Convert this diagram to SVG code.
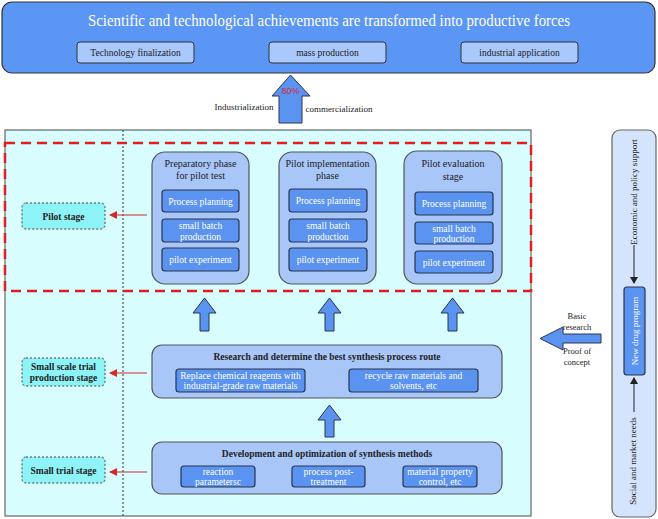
<svg xmlns="http://www.w3.org/2000/svg" width="658" height="519" viewBox="0 0 658 519">
<style>
text{font-family:"Liberation Serif","Times New Roman",serif;text-anchor:middle}
.top{fill:#5b96f5;stroke:#333;stroke-width:1.2}
.tsub{fill:#a9c8fb;stroke:#333;stroke-width:1}
.phase{fill:#a8c6f8;stroke:#555;stroke-width:1.2}
.sub{fill:#5b93f0;stroke:#2a3550;stroke-width:1.2}
.stage{fill:#8ef3f6;stroke:#444;stroke-width:1;stroke-dasharray:2,2}
.barrow{fill:#5b93f0;stroke:#2a3550;stroke-width:1}
.dk{fill:#222;font-size:10px}
.wt{fill:#fff;font-size:9.5px}
.st{fill:#222;font-size:9.5px;font-weight:bold}
.red{stroke:#d62a2a;stroke-width:1.2;fill:none;marker-end:url(#ra)}
.blk{stroke:#222;stroke-width:1;fill:none;marker-end:url(#ka)}
</style>
<defs>
<marker id="ra" markerWidth="8" markerHeight="8" refX="7" refY="4" orient="auto" markerUnits="userSpaceOnUse"><path d="M0,0 L8,4 L0,8 Z" fill="#d62a2a"/></marker>
<marker id="ka" markerWidth="7" markerHeight="8" refX="6" refY="4" orient="auto" markerUnits="userSpaceOnUse"><path d="M0,0 L7,4 L0,8 Z" fill="#222"/></marker>
</defs>

<g id="top">
<rect class="top" x="2" y="2" width="653" height="71" rx="10"/>
<text x="329" y="26" style="fill:#fff;font-size:16.5px" textLength="482" lengthAdjust="spacingAndGlyphs">Scientific and technological achievements are transformed into productive forces</text>
<rect class="tsub" x="77" y="42" width="117" height="21" rx="3"/>
<text class="dk" x="135.5" y="56" style="font-size:9.5px">Technology finalization</text>
<rect class="tsub" x="269" y="42" width="117" height="21" rx="3"/>
<text class="dk" x="327.5" y="56" style="font-size:9.5px">mass production</text>
<rect class="tsub" x="461" y="42" width="117" height="21" rx="3"/>
<text class="dk" x="519.5" y="56" style="font-size:9.5px">industrial application</text>
</g>

<g id="industrialization">
<path class="barrow" d="M290.5,75 L310,96 L302,96 L302,123 L279,123 L279,96 L272,96 Z"/>
<text x="290.5" y="94" style="fill:#d62a2a;font-size:9px;font-family:'Liberation Sans',Arial,sans-serif">80%</text>
<text class="dk" x="244" y="110" style="font-size:9px">Industrialization</text>
<text class="dk" x="339" y="112" style="font-size:9px">commercialization</text>
</g>

<g id="main-panel">
<rect x="5" y="130" width="526" height="386" fill="#d8fdfe" stroke="#666" stroke-width="1.2"/>
<line x1="123" y1="130" x2="123" y2="516" stroke="#333" stroke-width="1" stroke-dasharray="2,2"/>
<rect x="5" y="143" width="526" height="148" fill="none" stroke="#e02020" stroke-width="2.5" stroke-dasharray="10,6"/>
</g>

<g id="pilot-stage">
<rect class="stage" x="22" y="203" width="83" height="26" rx="4"/>
<text class="st" x="63.5" y="219.5">Pilot stage</text>
</g>
<g id="small-scale-stage">
<rect class="stage" x="22" y="358" width="83" height="28" rx="4"/>
<text class="st" x="63.5" y="370">Small scale trial</text>
<text class="st" x="63.5" y="381">production stage</text>
</g>
<g id="small-trial-stage">
<rect class="stage" x="22" y="457" width="83" height="26" rx="4"/>
<text class="st" x="63.5" y="473.5">Small trial stage</text>
</g>

<g id="phase1">
<rect class="phase" x="152" y="152" width="97" height="132" rx="13"/>
<text class="dk" x="200.5" y="167">Preparatory phase</text>
<text class="dk" x="200.5" y="179">for pilot test</text>
<rect class="sub" x="162" y="190" width="77" height="22" rx="3"/>
<text class="wt" x="200.5" y="204.5">Process planning</text>
<rect class="sub" x="162" y="219" width="77" height="23" rx="3"/>
<text class="wt" x="200.5" y="229">small batch</text>
<text class="wt" x="200.5" y="239.5">production</text>
<rect class="sub" x="162" y="248" width="77" height="23" rx="3"/>
<text class="wt" x="200.5" y="262.5">pilot experiment</text>
</g>

<g id="phase2">
<rect class="phase" x="279" y="152" width="97" height="132" rx="13"/>
<text class="dk" x="327.5" y="167">Pilot implementation</text>
<text class="dk" x="327.5" y="179">phase</text>
<rect class="sub" x="289" y="189" width="78" height="23" rx="3"/>
<text class="wt" x="328" y="204">Process planning</text>
<rect class="sub" x="289" y="219" width="78" height="23" rx="3"/>
<text class="wt" x="328" y="229">small batch</text>
<text class="wt" x="328" y="239.5">production</text>
<rect class="sub" x="289" y="248" width="78" height="23" rx="3"/>
<text class="wt" x="328" y="262.5">pilot experiment</text>
</g>

<g id="phase3">
<rect class="phase" x="404" y="151" width="98" height="133" rx="13"/>
<text class="dk" x="453" y="167">Pilot evaluation</text>
<text class="dk" x="453" y="180">stage</text>
<rect class="sub" x="415" y="192" width="78" height="23" rx="3"/>
<text class="wt" x="454" y="207">Process planning</text>
<rect class="sub" x="415" y="222" width="78" height="22" rx="3"/>
<text class="wt" x="454" y="231.5">small batch</text>
<text class="wt" x="454" y="242">production</text>
<rect class="sub" x="415" y="251" width="78" height="22" rx="3"/>
<text class="wt" x="454" y="265.5">pilot experiment</text>
</g>

<g id="research">
<rect class="phase" x="152" y="345" width="350" height="53" rx="10"/>
<text class="dk" x="327" y="360" style="font-weight:bold;font-size:9.5px">Research and determine the best synthesis process route</text>
<rect class="sub" x="176" y="369" width="129" height="23" rx="3"/>
<text class="wt" x="240.5" y="378.5">Replace chemical reagents with</text>
<text class="wt" x="240.5" y="389">industrial-grade raw materials</text>
<rect class="sub" x="349" y="369" width="129" height="23" rx="3"/>
<text class="wt" x="413.5" y="378.5">recycle raw materials and</text>
<text class="wt" x="413.5" y="389">solvents, etc</text>
</g>

<g id="development">
<rect class="phase" x="152" y="442" width="350" height="52" rx="10"/>
<text class="dk" x="327" y="457" style="font-weight:bold;font-size:9.5px">Development and optimization of synthesis methods</text>
<rect class="sub" x="181" y="466" width="74" height="21" rx="3"/>
<text class="wt" x="218" y="475">reaction</text>
<text class="wt" x="218" y="485">parametersc</text>
<rect class="sub" x="292" y="466" width="73" height="21" rx="3"/>
<text class="wt" x="328.5" y="475">process post-</text>
<text class="wt" x="328.5" y="485">treatment</text>
<rect class="sub" x="403" y="466" width="74" height="21" rx="3"/>
<text class="wt" x="440" y="475">material property</text>
<text class="wt" x="440" y="485">control, etc</text>
</g>

<g id="side-panel">
<rect x="612" y="130" width="44" height="387" rx="8" fill="#d4e4fc" stroke="#666" stroke-width="1.2"/>
<text class="dk" transform="translate(637,192) rotate(-90)" style="font-size:9px">Economic and policy support</text>
<rect class="sub" x="624" y="287" width="21" height="88" rx="3"/>
<text class="wt" transform="translate(637.5,331) rotate(-90)" style="font-size:9px">New drug program</text>
<text class="dk" transform="translate(636,461) rotate(-90)" style="font-size:9px">Social and market needs</text>
</g>

<g id="basic-research">
<path class="barrow" d="M540,338.5 L563,327 L563,334 L601,334 L601,343 L563,343 L563,350 Z"/>
<text class="dk" x="577" y="319" style="font-size:8.5px">Basic</text>
<text class="dk" x="577" y="330" style="font-size:8.5px">research</text>
<text class="dk" x="577" y="354" style="font-size:8.5px">Proof of</text>
<text class="dk" x="577" y="365" style="font-size:8.5px">concept</text>
</g>

<g id="connectors">
<line class="red" x1="147" y1="215" x2="110" y2="215"/>
<line class="red" x1="147" y1="373" x2="110" y2="373"/>
<line class="red" x1="147" y1="472" x2="110" y2="472"/>
<line class="blk" x1="634" y1="245" x2="634" y2="283"/>
<line class="blk" x1="634" y1="412" x2="634" y2="378"/>
<path class="barrow" d="M204.5,298 L216,313 L209,313 L209,331 L200,331 L200,313 L193,313 Z"/>
<path class="barrow" d="M329.5,298 L341,313 L334,313 L334,331 L325,331 L325,313 L318,313 Z"/>
<path class="barrow" d="M452.5,298 L464,313 L457,313 L457,331 L448,331 L448,313 L441,313 Z"/>
<path class="barrow" d="M329.5,405 L341,420 L334,420 L334,437 L325,437 L325,420 L318,420 Z"/>
</g>
</svg>
